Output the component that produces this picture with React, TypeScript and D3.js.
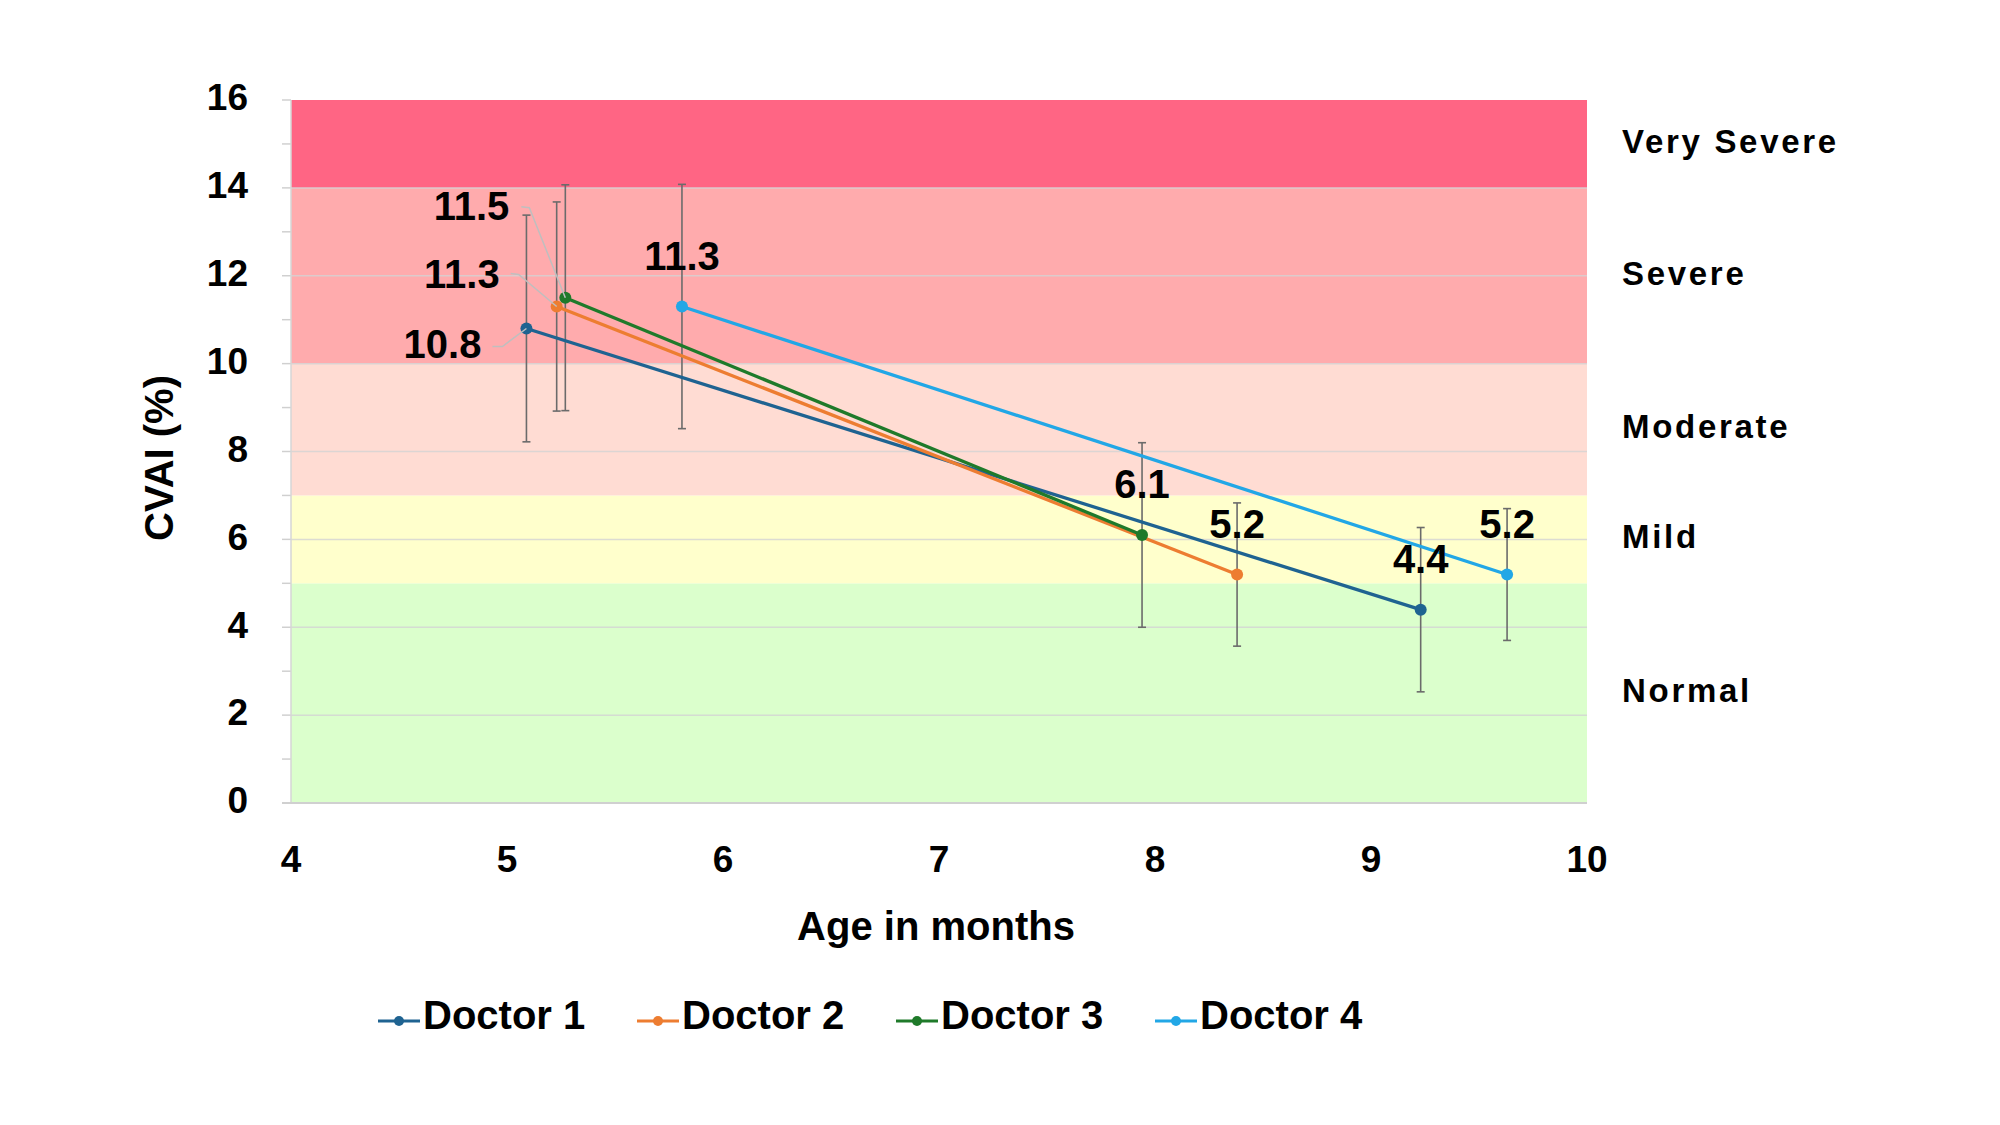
import * as d3 from 'd3'
import { useEffect, useRef } from 'react'

// Doctors and their two visits (age in months, CVAI %, SD)
const doctors = ['Doctor 1', 'Doctor 2', 'Doctor 3', 'Doctor 4']
const colors = ['#1f6391', '#ed7d31', '#1f7a2a', '#22a7e6']
const ageStart = [5.09, 5.23, 5.27, 5.81]
const ageEnd = [9.23, 8.38, 7.94, 9.63]
const cvaiStart = [10.8, 11.3, 11.5, 11.3]
const cvaiEnd = [4.4, 5.2, 6.1, 5.2]
const sdStart = [2.58, 2.38, 2.57, 2.78]
const sdEnd = [1.87, 1.63, 2.1, 1.5]

// severity bands
const bandLabels = ['Normal', 'Mild', 'Moderate', 'Severe', 'Very Severe']
const bandFrom = [0, 5, 7, 10, 14]
const bandTo = [5, 7, 10, 14, 16]
const bandColors = ['#dbffcc', '#ffffcc', '#ffdcd3', '#ffabad', '#ff6584']

const xTicks = [4, 5, 6, 7, 8, 9, 10]
const yTicks = [0, 2, 4, 6, 8, 10, 12, 14, 16]

type Pt = { age: number; v: number; sd: number }

export default function App() {
  const svgRef = useRef<SVGSVGElement>(null)

  useEffect(() => {
    if (!svgRef.current) return
    const svg = d3.select(svgRef.current)
    svg.selectAll('*').remove()

    const font = '"Liberation Sans", Arial, sans-serif'
    const x = d3.scaleLinear().domain([4, 10]).range([291, 1587])
    const y = d3.scaleLinear().domain([0, 16]).range([803, 100])

    // bands
    svg
      .append('g')
      .selectAll('rect')
      .data(bandLabels)
      .join('rect')
      .attr('x', x(4))
      .attr('width', x(10) - x(4))
      .attr('y', (_, i) => y(bandTo[i]))
      .attr('height', (_, i) => y(bandFrom[i]) - y(bandTo[i]))
      .attr('fill', (_, i) => bandColors[i])

    // gridlines
    svg
      .append('g')
      .selectAll('line')
      .data(yTicks.filter((t) => t > 0 && t < 16))
      .join('line')
      .attr('x1', x(4))
      .attr('x2', x(10))
      .attr('y1', (d) => y(d))
      .attr('y2', (d) => y(d))
      .attr('stroke', '#d4d4d4')
      .attr('stroke-width', 1.5)
      .attr('opacity', 0.8)

    // y axis ticks (major + minor)
    svg
      .append('g')
      .selectAll('line')
      .data(d3.range(0, 17))
      .join('line')
      .attr('x1', 282)
      .attr('x2', x(4))
      .attr('y1', (d) => y(d))
      .attr('y2', (d) => y(d))
      .attr('stroke', '#d0d0d0')
      .attr('stroke-width', 1.5)
    svg
      .append('line')
      .attr('x1', x(4))
      .attr('x2', x(4))
      .attr('y1', y(16))
      .attr('y2', y(0))
      .attr('stroke', '#d6d6d6')
      .attr('stroke-width', 1.5)
    svg
      .append('line')
      .attr('x1', 282)
      .attr('x2', x(10))
      .attr('y1', y(0))
      .attr('y2', y(0))
      .attr('stroke', '#d0d0d0')
      .attr('stroke-width', 2)

    svg
      .append('g')
      .selectAll('text')
      .data(yTicks)
      .join('text')
      .attr('x', 248)
      .attr('y', (d) => y(d) - 3)
      .attr('dy', '0.36em')
      .attr('text-anchor', 'end')
      .attr('font-family', font)
      .attr('font-weight', 'bold')
      .attr('font-size', 37)
      .text((d) => d)

    svg
      .append('g')
      .selectAll('text')
      .data(xTicks)
      .join('text')
      .attr('x', (d) => x(d))
      .attr('y', 872)
      .attr('text-anchor', 'middle')
      .attr('font-family', font)
      .attr('font-weight', 'bold')
      .attr('font-size', 37)
      .text((d) => d)

    // axis titles
    svg
      .append('text')
      .attr('x', 936)
      .attr('y', 940)
      .attr('text-anchor', 'middle')
      .attr('font-family', font)
      .attr('font-weight', 'bold')
      .attr('font-size', 40)
      .text('Age in months')
    svg
      .append('text')
      .attr('transform', 'translate(173,458) rotate(-90)')
      .attr('text-anchor', 'middle')
      .attr('font-family', font)
      .attr('font-weight', 'bold')
      .attr('font-size', 40)
      .text('CVAI (%)')

    // band labels on the right
    svg
      .append('g')
      .selectAll('text')
      .data(bandLabels)
      .join('text')
      .attr('x', 1622)
      .attr('y', (_, i) => y((bandFrom[i] + bandTo[i]) / 2) - 3)
      .attr('dy', '0.36em')
      .attr('font-family', font)
      .attr('font-weight', 'bold')
      .attr('font-size', 33)
      .attr('letter-spacing', 2.7)
      .text((d) => d)

    const series: Pt[][] = doctors.map((_, i) => [
      { age: ageStart[i], v: cvaiStart[i], sd: sdStart[i] },
      { age: ageEnd[i], v: cvaiEnd[i], sd: sdEnd[i] },
    ])

    // error bars
    const eb = svg.append('g').attr('stroke', '#6b6b6b').attr('stroke-width', 1.6)
    series.flat().forEach((p) => {
      const cx = x(p.age)
      eb.append('line').attr('x1', cx).attr('x2', cx).attr('y1', y(p.v + p.sd)).attr('y2', y(p.v - p.sd))
      ;[p.v + p.sd, p.v - p.sd].forEach((v) => {
        eb.append('line').attr('x1', cx - 4).attr('x2', cx + 4).attr('y1', y(v)).attr('y2', y(v))
      })
    })

    const line = d3
      .line<Pt>()
      .x((d) => x(d.age))
      .y((d) => y(d.v))

    series.forEach((s, i) => {
      svg
        .append('path')
        .datum(s)
        .attr('fill', 'none')
        .attr('stroke', colors[i])
        .attr('stroke-width', 3.3)
        .attr('d', line)
      svg
        .append('g')
        .selectAll('circle')
        .data(s)
        .join('circle')
        .attr('cx', (d) => x(d.age))
        .attr('cy', (d) => y(d.v))
        .attr('r', 6)
        .attr('fill', colors[i])
    })

    // value labels: start points sit left of the cluster with leader lines
    const startOffsets = [
      { dx: -45, dy: 30, l1: [-34, 18], l2: [-24, 18] },
      { dx: -57, dy: -19, l1: [-46, -33], l2: [-38, -32] },
      { dx: -56, dy: -78, l1: [-44, -91], l2: [-36, -90] },
      null,
    ]
    const lbl = svg.append('g').attr('font-family', font).attr('font-weight', 'bold').attr('font-size', 40)
    series.forEach((s, i) => {
      s.forEach((p, j) => {
        const px = x(p.age)
        const py = y(p.v)
        const off = j === 0 ? startOffsets[i] : null
        if (off) {
          svg
            .append('polyline')
            .attr('points', `${px + off.l1[0]},${py + off.l1[1]} ${px + off.l2[0]},${py + off.l2[1]} ${px},${py}`)
            .attr('fill', 'none')
            .attr('stroke', '#bfbfbf')
            .attr('stroke-width', 1.5)
          lbl
            .append('text')
            .attr('x', px + off.dx)
            .attr('y', py + off.dy)
            .attr('text-anchor', 'end')
            .text(d3.format('.1f')(p.v))
        } else {
          lbl
            .append('text')
            .attr('x', px)
            .attr('y', py - 37)
            .attr('text-anchor', 'middle')
            .text(d3.format('.1f')(p.v))
        }
      })
    })

    // legend
    const lg = svg.append('g')
    doctors.forEach((name, i) => {
      const x0 = 378 + i * 259
      lg.append('line')
        .attr('x1', x0)
        .attr('x2', x0 + 42)
        .attr('y1', 1021)
        .attr('y2', 1021)
        .attr('stroke', colors[i])
        .attr('stroke-width', 3)
      lg.append('circle').attr('cx', x0 + 21).attr('cy', 1021).attr('r', 5).attr('fill', colors[i])
      lg.append('text')
        .attr('x', x0 + 45)
        .attr('y', 1029)
        .attr('font-family', font)
        .attr('font-weight', 'bold')
        .attr('font-size', 40)
        .text(name)
    })
  }, [])

  return (
    <svg
      ref={svgRef}
      width={2000}
      height={1125}
      style={{ position: 'absolute', left: 0, top: 0, background: '#fff' }}
    />
  )
}
